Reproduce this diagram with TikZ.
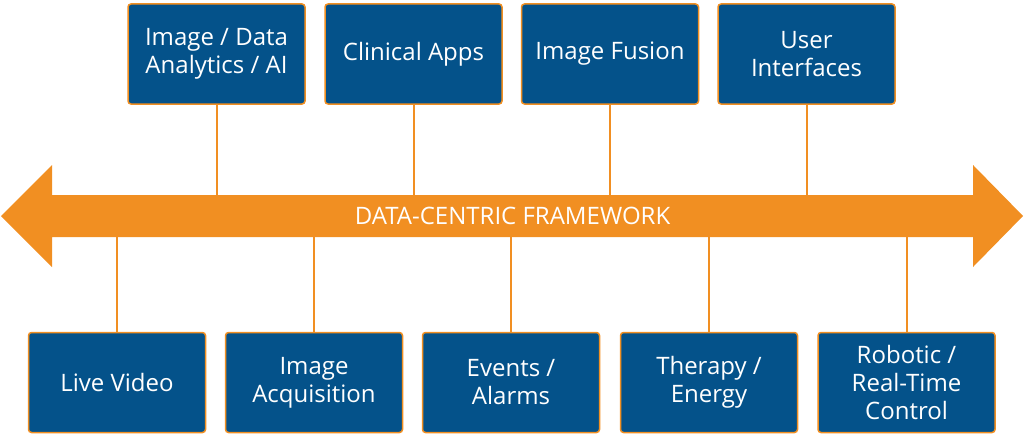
\documentclass[tikz,border=0pt]{standalone}
\usepackage{fontspec}
\setmainfont{Open Sans}
\usepackage{tikz}

\definecolor{boxblue}{HTML}{04528A}
\definecolor{framecol}{HTML}{F18F22}

\begin{document}
\begin{tikzpicture}[x=1pt, y=-1pt,
    box/.style={rectangle, rounded corners=3pt, draw=framecol, fill=boxblue, line width=1.5pt,
        minimum width=177pt, minimum height=100pt, inner sep=2pt, text=white, align=center,
        font=\fontsize{24}{28}\selectfont},
    link/.style={draw=framecol, line width=2pt},
    framelabel/.style={minimum width=921pt, minimum height=42pt, inner sep=0pt, text=white,
        font=\fontsize{24}{28}\selectfont}
    ]
    \useasboundingbox (0,0) rectangle (1024,436);

    % the big double arrow
    \fill [framecol] (52,195) -- (52,165) -- (1,216) -- (52,267) -- (52,237)
        -- (973,237) -- (973,267) -- (1023,216) -- (973,165) -- (973,195) -- cycle;
    \node [framelabel] (frame) at (512.5,216) {DATA-CENTRIC FRAMEWORK};

    \node [box] (top1) at (216.5,54) {Image / Data\\Analytics / AI};
    \node [box] (top2) at (413.5,54) {Clinical Apps};
    \node [box] (top3) at (610,54) {Image Fusion};
    \node [box] (top4) at (806.5,54) {User\\Interfaces};

    \node [box] (bot1) at (117,382.5) {Live Video};
    \node [box] (bot2) at (314,382.5) {Image\\Acquisition};
    \node [box] (bot3) at (511,382.5) {Events /\\Alarms};
    \node [box] (bot4) at (709,382.5) {Therapy /\\Energy};
    \node [box] (bot5) at (906.5,382.5) {Robotic /\\Real-Time\\Control};

    \foreach \n in {top1,top2,top3,top4}
        \draw [link] (\n.south) -- (\n.south |- frame.north);
    \foreach \n in {bot1,bot2,bot3,bot4,bot5}
        \draw [link] (\n.north) -- (\n.north |- frame.south);
\end{tikzpicture}
\end{document}
